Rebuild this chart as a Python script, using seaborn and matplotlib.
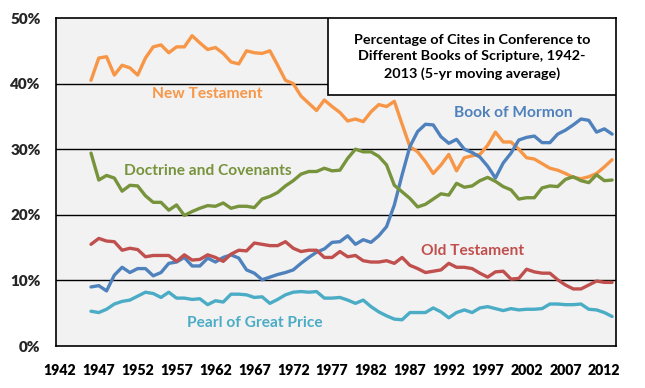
import numpy as np
import pandas as pd
import matplotlib
matplotlib.use("Agg")
import matplotlib.pyplot as plt
import seaborn as sns

years = list(range(1946, 2014))

new_testament = [40.5, 43.9, 44.1, 41.3, 42.8, 42.4, 41.3, 43.9, 45.6, 45.9,
                 44.7, 45.6, 45.6, 47.3, 46.2, 45.2, 45.5, 44.6, 43.3, 43.0,
                 45.0, 44.7, 44.6, 45.0, 42.8, 40.5, 40.0, 38.1, 37.0, 35.9,
                 37.5, 36.5, 35.6, 34.3, 34.6, 34.2, 35.7, 36.8, 36.5, 37.3,
                 33.8, 30.4, 29.6, 28.1, 26.3, 27.6, 29.2, 26.7, 28.7, 29.0,
                 29.2, 30.6, 32.6, 31.1, 31.1, 30.0, 28.7, 28.5, 27.8, 27.1,
                 26.8, 26.3, 25.7, 25.5, 25.8, 26.3, 27.3, 28.4]

book_of_mormon = [9.0, 9.2, 8.4, 10.8, 12.0, 11.2, 11.8, 11.8, 10.7, 11.2,
                  12.6, 12.8, 13.5, 12.2, 12.2, 13.4, 12.8, 13.5, 13.9, 13.4,
                  11.6, 11.1, 10.1, 10.5, 10.9, 11.2, 11.6, 12.6, 13.5, 14.3,
                  14.8, 15.8, 15.9, 16.8, 15.5, 16.2, 15.8, 16.8, 18.2, 21.5,
                  26.1, 30.4, 32.7, 33.8, 33.7, 31.9, 30.9, 31.5, 30.0, 29.5,
                  28.8, 27.4, 25.6, 27.9, 29.4, 31.4, 31.8, 32.0, 31.0, 31.0,
                  32.3, 32.9, 33.7, 34.6, 34.4, 32.6, 33.1, 32.3]

doctrine_covenants = [29.4, 25.3, 26.0, 25.6, 23.6, 24.5, 24.4, 22.9, 21.9, 21.9,
                      20.7, 21.5, 19.9, 20.5, 21.0, 21.4, 21.3, 21.8, 21.0, 21.3,
                      21.3, 21.1, 22.4, 22.8, 23.4, 24.4, 25.2, 26.2, 26.6, 26.6,
                      27.1, 26.7, 26.8, 28.6, 30.0, 29.6, 29.6, 28.9, 27.6, 24.5,
                      23.5, 22.5, 21.2, 21.6, 22.4, 23.2, 23.0, 24.8, 24.2, 24.4,
                      25.2, 25.7, 25.1, 24.3, 23.8, 22.4, 22.6, 22.6, 24.1, 24.4,
                      24.3, 25.4, 25.8, 25.2, 24.9, 26.1, 25.2, 25.3]

old_testament = [15.5, 16.4, 16.0, 15.9, 14.6, 14.9, 14.7, 13.6, 13.8, 13.8,
                 13.8, 12.9, 13.9, 13.1, 13.2, 13.9, 13.5, 12.9, 14.0, 14.6,
                 14.5, 15.7, 15.5, 15.3, 15.3, 15.9, 14.9, 14.4, 14.6, 14.6,
                 13.5, 13.5, 14.4, 13.6, 13.8, 13.0, 12.8, 12.8, 13.0, 12.6,
                 13.5, 12.3, 11.8, 11.2, 11.4, 11.6, 12.6, 12.0, 12.0, 11.8,
                 11.1, 10.5, 11.3, 11.4, 10.2, 10.3, 11.7, 11.3, 11.1, 11.1,
                 10.1, 9.3, 8.7, 8.7, 9.3, 9.9, 9.7, 9.7]

pearl_great_price = [5.3, 5.1, 5.6, 6.4, 6.8, 7.0, 7.6, 8.2, 8.0, 7.4,
                     8.2, 7.3, 7.3, 7.1, 7.2, 6.3, 6.9, 6.7, 7.9, 7.9,
                     7.8, 7.4, 7.5, 6.5, 7.1, 7.8, 8.2, 8.3, 8.2, 8.3,
                     7.3, 7.3, 7.4, 7.0, 6.5, 7.0, 6.0, 5.2, 4.6, 4.1,
                     4.0, 5.1, 5.1, 5.1, 5.8, 5.2, 4.3, 5.1, 5.5, 5.1,
                     5.8, 6.0, 5.7, 5.4, 5.7, 5.5, 5.6, 5.6, 5.7, 6.4,
                     6.4, 6.3, 6.3, 6.4, 5.6, 5.5, 5.1, 4.5]

series_names = ["New Testament", "Book of Mormon", "Doctrine and Covenants",
                "Old Testament", "Pearl of Great Price"]
colors = ["#F79646", "#4F81BD", "#77933C", "#C0504D", "#4BACC6"]
tick_years = list(range(1942, 2013, 5))
title_text = ("Percentage of Cites in Conference to\n"
              "Different Books of Scripture, 1942-\n"
              "2013 (5-yr moving average)")

frames = []
for name, vals in zip(series_names,
                      [new_testament, book_of_mormon, doctrine_covenants,
                       old_testament, pearl_great_price]):
    frames.append(pd.DataFrame({"Year": years, "Percent": vals, "Book": name}))
df = pd.concat(frames, ignore_index=True)

sns.set_theme(style="white")
plt.rcParams["font.family"] = ["Lato", "DejaVu Sans"]

fig = plt.figure(figsize=(6.45, 3.88), dpi=100)
ax = fig.add_axes([56 / 645, 42 / 388, 560 / 645, 328 / 388])
ax.set_facecolor("#F2F2F2")

sns.lineplot(data=df, x="Year", y="Percent", hue="Book",
             palette=dict(zip(series_names, colors)), hue_order=series_names,
             linewidth=2.4, legend=False, ax=ax)

ax.set_xlim(1941.5, 2013.5)
ax.set_ylim(0, 50)
ax.set_xticks([y - 0.5 for y in tick_years])
ax.set_xticklabels([])
for y in tick_years:
    ax.text(y, -2.8, str(y), ha="center", va="top", fontsize=10.2,
            fontweight="heavy", color="black")
ax.set_yticks(range(0, 51, 10))
ax.set_yticklabels([f"{v}%" for v in range(0, 51, 10)], fontsize=11,
                   fontweight="heavy")
ax.set_xlabel("")
ax.set_ylabel("")
for v in range(10, 50, 10):
    ax.axhline(v, color="black", linewidth=1.0, zorder=1)
for s in ax.spines.values():
    s.set_color("black")
    s.set_linewidth(1.2)
ax.tick_params(axis="both", direction="out", length=5, width=1.0,
               color="black", pad=3)
ax.tick_params(axis="y", pad=6)

labels = [("New Testament", 1960.9, 38.4, colors[0]),
          ("Doctrine and Covenants", 1961.0, 26.7, colors[2]),
          ("Book of Mormon", 2000.3, 35.5, colors[1]),
          ("Old Testament", 1995.1, 14.5, colors[3]),
          ("Pearl of Great Price", 1967.0, 3.55, colors[4])]
for txt, x, y, c in labels:
    ax.text(x, y, txt, color=c, fontsize=11.2, fontweight="bold",
            ha="center", va="center")

# Title box
bx0 = 1941.5 + (328 - 56) / 7.78
ax.add_patch(plt.Rectangle((bx0, 38.2), 2013.5 - bx0, 11.8,
                           facecolor="white", edgecolor="black",
                           linewidth=1.2, zorder=5))
ax.text((bx0 + 2013.5) / 2, 44.1, title_text, ha="center", va="center",
        fontsize=10.4, fontweight="bold", color="black",
        linespacing=1.45, zorder=6)

fig.savefig("out.png", dpi=100, facecolor="white")
